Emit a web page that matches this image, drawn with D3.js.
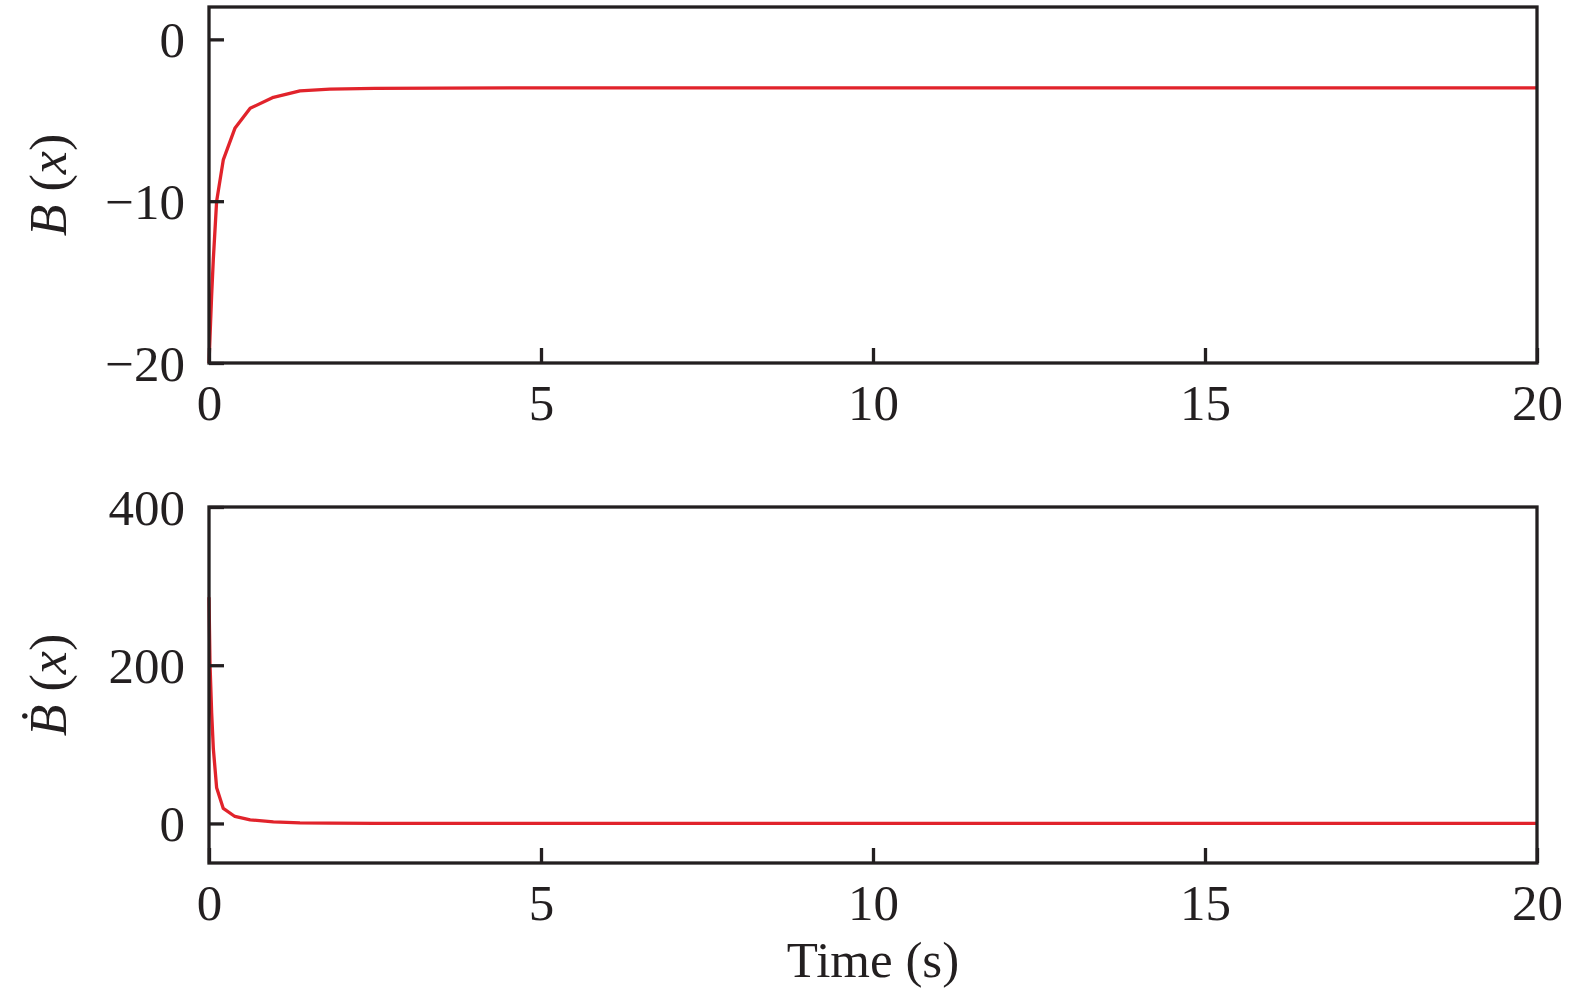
<!DOCTYPE html>
<html>
<head>
<meta charset="utf-8">
<script src="https://cdn.jsdelivr.net/npm/d3@7"></script>
<style>
  html, body { margin: 0; padding: 0; background: #fff; }
  svg text { font-family: "Liberation Serif", "Times New Roman", serif; fill: #231f20; }
</style>
</head>
<body>
<svg id="chart" width="1575" height="998"></svg>
<script>
// ---- data ----
const time = [0, 0.015, 0.04, 0.065, 0.115, 0.215, 0.39, 0.62, 0.97, 1.37, 1.82, 2.5, 3.5, 5, 10, 20];
const bValues = [-20, -18.4, -15.8, -13.6, -10.0, -7.45, -5.5, -4.26, -3.58, -3.18, -3.08, -3.03, -3.01, -3.0, -3.0, -3.0];
const bDotValues = [286, 202, 140, 95, 45, 19, 8.8, 4.5, 2.0, 0.75, 0.3, 0.1, 0.03, 0, 0, 0];
const xTicks = [0, 5, 10, 15, 20];
const yTicksTop = [0, -10, -20];
const yTicksBottom = [0, 200, 400];
const xLabel = "Time (s)";

// ---- layout ----
const svg = d3.select("#chart");
const left = 209, right = 1537;
const panels = [
  { top: 7, bottom: 363, domain: [-20, 2], ticks: yTicksTop, values: bValues, dot: false },
  { top: 507, bottom: 863, domain: [-50, 400], ticks: yTicksBottom, values: bDotValues, dot: true }
];
const lineColor = "#e1232b";
const axisColor = "#231f20";
const fontSize = 51;

const x = d3.scaleLinear().domain([0, 20]).range([left, right]);

panels.forEach(p => {
  const y = d3.scaleLinear().domain(p.domain).range([p.bottom, p.top]);
  const g = svg.append("g");

  const clipId = "clip" + p.top;
  svg.append("clipPath").attr("id", clipId).append("rect")
    .attr("x", left - 2).attr("y", p.top - 2).attr("width", right - left + 2).attr("height", p.bottom - p.top + 4);
  g.append("path")
    .datum(time.map((t, i) => [t, p.values[i]]))
    .attr("clip-path", `url(#${clipId})`)
    .attr("fill", "none")
    .attr("stroke", lineColor)
    .attr("stroke-width", 3.3)
    .attr("stroke-linejoin", "round")
    .attr("d", d3.line().x(d => x(d[0])).y(d => y(d[1])));

  const xAxis = d3.axisBottom(x).tickValues(xTicks).tickSizeInner(-15).tickSizeOuter(0).tickPadding(26)
    .tickFormat(d3.format("d"));
  const gx = g.append("g").attr("transform", `translate(0,${p.bottom})`).call(xAxis);
  const yAxis = d3.axisLeft(y).tickValues(p.ticks).tickSizeInner(-15).tickSizeOuter(0).tickPadding(24)
    .tickFormat(d3.format("d"));
  const gy = g.append("g").attr("transform", `translate(${left},0)`).call(yAxis);

  [gx, gy].forEach(a => {
    a.select(".domain").remove();
    a.selectAll(".tick line").attr("stroke", axisColor).attr("stroke-width", 3.3);
    a.selectAll(".tick text").attr("font-size", fontSize).attr("fill", axisColor)
      .style("font-family", '"Liberation Serif", serif');
  });
  gx.selectAll(".tick text").attr("dy", null).attr("y", 57);
  gy.selectAll(".tick text").attr("dy", "0.34em");

  g.append("rect")
    .attr("x", left).attr("y", p.top)
    .attr("width", right - left).attr("height", p.bottom - p.top)
    .attr("fill", "none").attr("stroke", axisColor).attr("stroke-width", 3.3);

  const cy = (p.top + p.bottom) / 2;
  const lab = g.append("text")
    .attr("transform", `translate(66,${cy}) rotate(-90)`)
    .attr("text-anchor", "middle")
    .attr("font-size", 52);
  lab.append("tspan").attr("font-style", "italic").text(p.dot ? "\u1E02" : "B");
  lab.append("tspan").text(" (");
  lab.append("tspan").attr("font-style", "italic").text("x");
  lab.append("tspan").text(")");
});

svg.append("text")
  .attr("x", (left + right) / 2).attr("y", 977)
  .attr("text-anchor", "middle")
  .attr("font-size", 51)
  .text(xLabel);
</script>
</body>
</html>
